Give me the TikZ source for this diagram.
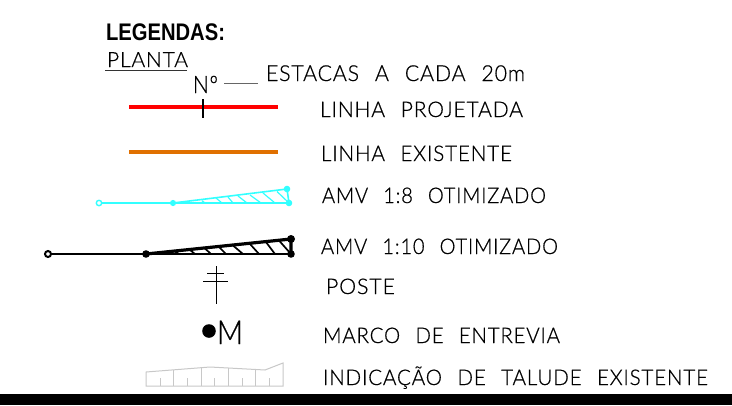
\documentclass[tikz,border=0pt]{standalone}
\usepackage{fontspec}
\setmainfont{Liberation Sans}[WordSpace=2]
\newfontfamily\thinfont{Lato Light}[WordSpace=2.4,LetterSpace=4,FakeBold=0.6]
\newcommand{\fit}[3]{\resizebox{#1pt}{\height}{\fontsize{#2}{#2}\selectfont #3}}
\newcommand{\thin}[3]{\resizebox{#1pt}{\height}{\fontsize{#2}{#2}\thinfont #3}}
\definecolor{amvcyan}{HTML}{33FFFF}
\definecolor{orangeline}{HTML}{E07000}
\definecolor{taludegray}{HTML}{C8C8C8}
\tikzset{
  lbl/.style={anchor=base west,inner sep=0pt,outer sep=0pt,text=black},
  cyanln/.style={amvcyan,line width=1.6pt},
  blackln/.style={black,line width=2.8pt},
  taludeln/.style={taludegray,line width=1pt},
  grayln/.style={black!60,line width=1pt}
}
\begin{document}
\begin{tikzpicture}[x=1pt,y=-1pt]
\useasboundingbox (0,0) rectangle (732,405);
\fill[white] (0,0) rectangle (732,405);
\fill[black] (0,394) rectangle (732,405);
% headings
\node[lbl] (legendas) at (106,40) {\fit{119}{24}{\bfseries LEGENDAS:}};
\node[lbl] (planta) at (107,67) {\thin{81}{21}{PLANTA}};
\draw[line width=1pt,black!80] (105,70) -- (187,70);
\node[lbl] (num) at (193,93) {\thin{25}{24}{Nº}};
\draw[grayln] (224,83) -- (258,83);
\node[lbl] (estacas) at (266,81) {\thin{259}{22}{ESTACAS A CADA 20m}};
% linha projetada
\draw[red,line width=4pt] (129,107) -- (278,107);
\draw[black,line width=1.3pt] (203,99) -- (203,118);
\node[lbl] (lproj) at (320,117) {\thin{203}{21.5}{LINHA PROJETADA}};
% linha existente
\draw[orangeline,line width=4pt] (129,152) -- (278,152);
\node[lbl] (lexis) at (321,161) {\thin{191}{21.5}{LINHA EXISTENTE}};
% AMV 1:8
\draw[cyanln] (101.5,203) -- (289,203);
\draw[cyanln] (173,203) -- (287,189) -- (289,203);
\foreach \a/\b/\c/\d in {202/200.7/205/203,216/198/222/203,228/197/233/203,238/196/247/203,250/195/261/203,263/193/275/203,277/191.5/289/203}
  \draw[amvcyan,line width=1.2pt] (\a,\b) -- (\c,\d);
\draw[amvcyan,line width=1.4pt,fill=white] (99,203) circle (2.7);
\fill[amvcyan] (173,203) circle (3.1) (287,189) circle (3.3) (289,203) circle (3.3);
\node[lbl] (amv8) at (322,203) {\thin{224}{21.5}{AMV 1:8 OTIMIZADO}};
% AMV 1:10
\draw[blackln] (50,254) -- (291,254);
\draw[black,line width=3.2pt] (146,254) -- (291,239) -- (291,254);
\foreach \a/\b/\c/\d in {175/251.5/179/254,190/250/195/254,205/248.5/211/254,219/247/226/254,233/245.5/243/254,250/244/259/254,266/242/275/254,279/240.5/291/254}
  \draw[black,line width=1.7pt] (\a,\b) -- (\c,\d);
\draw[black,line width=2pt,fill=white] (48,254) circle (3);
\fill[black] (146,254) circle (3.8) (291,239) circle (4) (291,254) circle (3.8);
\node[lbl] (amv10) at (321,254) {\thin{237}{21.5}{AMV 1:10 OTIMIZADO}};
% poste
\draw[black,line width=1pt] (216,266) -- (216,304) (207,273) -- (224,273) (203,281) -- (228,281);
\node[lbl] (poste) at (326,294) {\thin{69}{21.5}{POSTE}};
% marco
\fill[black] (209,331) circle (6.8);
\node[lbl] (marcoM) at (217,344) {\thin{26}{33}{M}};
\node[lbl] (marco) at (323,343) {\thin{237}{21.5}{MARCO DE ENTREVIA}};
% talude
\draw[taludeln] (146,386) -- (146,372) -- (210,367) -- (265,370) -- (283,363) -- (283,386) -- cycle;
\foreach \x/\y in {173.3/370,201/368,228/368,255/370}
  \draw[taludeln] (\x,\y) -- (\x,386);
\foreach \x in {160,187,214,242,269}
  \draw[taludeln] (\x,378) -- (\x,386);
\node[lbl] (talude) at (323,385) {\thin{385}{21.5}{INDICAÇÃO DE TALUDE EXISTENTE}};
\end{tikzpicture}
\end{document}
